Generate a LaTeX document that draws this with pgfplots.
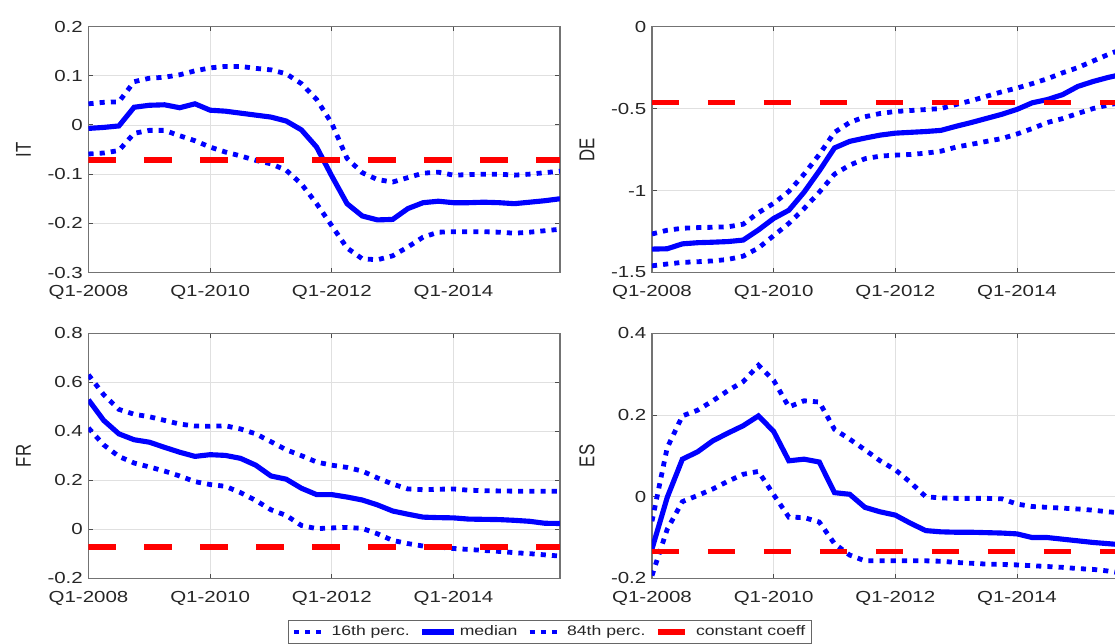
\documentclass[border=0pt]{standalone}
\usepackage{fontspec}
\setmainfont{Liberation Sans}[FakeStretch=1.28]
\newfontfamily\plainfont{Liberation Sans}
\usepackage{graphicx}
\usepackage{pgfplots}
\pgfplotsset{compat=1.18}
\usepackage{pgfplotstable}

\definecolor{mblue}{RGB}{0,0,255}
\definecolor{mred}{RGB}{255,0,0}
\definecolor{mtext}{RGB}{38,38,38}

\pgfplotstableread{
q lo med hi
0 -0.059 -0.007 0.043
1 -0.057 -0.005 0.046
2 -0.052 -0.002 0.047
3 -0.017 0.036 0.088
4 -0.011 0.040 0.095
5 -0.011 0.041 0.097
6 -0.022 0.035 0.102
7 -0.032 0.043 0.110
8 -0.045 0.030 0.116
9 -0.055 0.028 0.119
10 -0.063 0.024 0.119
11 -0.072 0.020 0.115
12 -0.079 0.016 0.112
13 -0.092 0.008 0.104
14 -0.120 -0.010 0.084
15 -0.160 -0.045 0.052
16 -0.205 -0.104 0.003
17 -0.250 -0.160 -0.068
18 -0.272 -0.185 -0.097
19 -0.274 -0.193 -0.111
20 -0.266 -0.192 -0.116
21 -0.248 -0.170 -0.107
22 -0.228 -0.158 -0.098
23 -0.218 -0.155 -0.096
24 -0.217 -0.158 -0.102
25 -0.217 -0.158 -0.101
26 -0.217 -0.157 -0.100
27 -0.218 -0.158 -0.100
28 -0.220 -0.160 -0.102
29 -0.218 -0.157 -0.100
30 -0.215 -0.154 -0.097
31 -0.212 -0.150 -0.094
}\ITdata

\pgfplotstableread{
q lo med hi
0 -1.459 -1.357 -1.265
1 -1.448 -1.355 -1.242
2 -1.438 -1.325 -1.230
3 -1.434 -1.318 -1.226
4 -1.429 -1.315 -1.224
5 -1.420 -1.311 -1.221
6 -1.400 -1.302 -1.205
7 -1.350 -1.240 -1.135
8 -1.275 -1.170 -1.078
9 -1.200 -1.120 -1.005
10 -1.110 -1.010 -0.900
11 -1.010 -0.880 -0.780
12 -0.900 -0.740 -0.645
13 -0.845 -0.700 -0.585
14 -0.806 -0.680 -0.550
15 -0.790 -0.662 -0.530
16 -0.784 -0.650 -0.518
17 -0.780 -0.645 -0.512
18 -0.772 -0.640 -0.506
19 -0.760 -0.633 -0.500
20 -0.735 -0.608 -0.475
21 -0.718 -0.585 -0.452
22 -0.700 -0.560 -0.425
23 -0.683 -0.535 -0.398
24 -0.655 -0.505 -0.375
25 -0.622 -0.465 -0.348
26 -0.585 -0.445 -0.318
27 -0.561 -0.415 -0.282
28 -0.530 -0.365 -0.250
29 -0.500 -0.335 -0.210
30 -0.478 -0.310 -0.170
31 -0.460 -0.290 -0.135
}\DEdata

\pgfplotstableread{
q lo med hi
0 0.414 0.529 0.631
1 0.345 0.445 0.550
2 0.298 0.390 0.490
3 0.271 0.366 0.470
4 0.255 0.356 0.460
5 0.238 0.335 0.445
6 0.218 0.315 0.430
7 0.195 0.298 0.422
8 0.183 0.305 0.421
9 0.176 0.302 0.423
10 0.150 0.290 0.410
11 0.118 0.262 0.390
12 0.080 0.218 0.358
13 0.057 0.205 0.325
14 0.016 0.168 0.301
15 0.003 0.142 0.275
16 0.006 0.142 0.262
17 0.008 0.132 0.253
18 0.004 0.120 0.238
19 -0.018 0.100 0.210
20 -0.045 0.075 0.185
21 -0.058 0.062 0.165
22 -0.068 0.050 0.162
23 -0.072 0.048 0.164
24 -0.078 0.047 0.165
25 -0.082 0.042 0.160
26 -0.086 0.041 0.158
27 -0.090 0.040 0.157
28 -0.095 0.037 0.156
29 -0.099 0.033 0.156
30 -0.104 0.025 0.156
31 -0.109 0.024 0.156
}\FRdata

\pgfplotstableread{
q lo med hi
0 -0.193 -0.128 -0.060
1 -0.080 -0.002 0.120
2 -0.012 0.092 0.198
3 0.003 0.110 0.212
4 0.019 0.137 0.235
5 0.038 0.156 0.260
6 0.055 0.174 0.282
7 0.062 0.198 0.322
8 0.005 0.160 0.285
9 -0.050 0.088 0.220
10 -0.051 0.092 0.235
11 -0.062 0.085 0.232
12 -0.115 0.010 0.165
13 -0.143 0.006 0.141
14 -0.157 -0.026 0.115
15 -0.157 -0.037 0.088
16 -0.157 -0.045 0.066
17 -0.157 -0.065 0.035
18 -0.157 -0.083 0.000
19 -0.158 -0.086 -0.003
20 -0.161 -0.087 -0.004
21 -0.163 -0.087 -0.004
22 -0.165 -0.088 -0.004
23 -0.166 -0.089 -0.005
24 -0.167 -0.091 -0.018
25 -0.169 -0.100 -0.024
26 -0.171 -0.100 -0.026
27 -0.173 -0.104 -0.028
28 -0.176 -0.108 -0.030
29 -0.178 -0.112 -0.033
30 -0.182 -0.115 -0.037
31 -0.188 -0.118 -0.040
}\ESdata

\pgfplotsset{
  panel/.style={
    scale only axis, width=294.7pt, height=153.75pt,
    anchor=north west,
    xmin=0, xmax=31, xtick={0,8,16,24},
    xticklabels={Q1-2008,Q1-2010,Q1-2012,Q1-2014},
    grid=major, major grid style={draw=black!12, line width=0.5pt},
    axis line style={draw=black!55, line width=0.7pt},
    tick style={draw=black!70, line width=0.6pt},
    tick align=inside, major tick length=3pt,
    ticklabel style={font=\fontsize{10}{12}\selectfont, text=mtext},
    /pgf/number format/assume math mode=true,
    ylabel style={at={(axis description cs:-0.138,0.5)}, anchor=center,
      font=\fontsize{10.5}{12}\selectfont, text=mtext},
    xticklabel style={yshift=-4.3pt},
  },
  lo/.style={mblue, line width=3pt, dash pattern=on 3.2pt off 3.8pt},
  med/.style={mblue, line width=3.2pt},
  cst/.style={mred, line width=3.6pt, dash pattern=on 17pt off 18pt},
}
\newcommand{\ylab}[1]{\scalebox{1}[1.28]{\plainfont #1}}

\begin{document}
\begin{tikzpicture}
% IT
\begin{axis}[panel, at={(55.3pt,-16.6pt)},
  ymin=-0.3, ymax=0.2, ytick={-0.3,-0.2,-0.1,0,0.1,0.2},
  ylabel={\ylab{IT}}]
\addplot[lo] table[x=q,y=lo]{\ITdata};
\addplot[med] table[x=q,y=med]{\ITdata};
\addplot[lo] table[x=q,y=hi]{\ITdata};
\addplot[cst] coordinates {(0,-0.071) (31,-0.071)};
\end{axis}
% DE
\begin{axis}[panel, at={(407.5pt,-16.6pt)},
  ymin=-1.5, ymax=0, ytick={-1.5,-1,-0.5,0},
  ylabel={\ylab{DE}}]
\addplot[lo] table[x=q,y=lo]{\DEdata};
\addplot[med] table[x=q,y=med]{\DEdata};
\addplot[lo] table[x=q,y=hi]{\DEdata};
\addplot[cst] coordinates {(0,-0.463) (31,-0.463)};
\end{axis}
% FR
\begin{axis}[panel, at={(55.3pt,-208.4pt)}, height=153.1pt,
  ymin=-0.2, ymax=0.8, ytick={-0.2,0,0.2,0.4,0.6,0.8},
  ylabel={\ylab{FR}},
  legend columns=4,
  legend style={at={(axis description cs:0.423,-0.169)}, anchor=north west,
    draw=black!60, line width=0.5pt, fill=white,
    font=\fontsize{8.6}{10}\selectfont, text=mtext,
    inner xsep=2pt, inner ysep=1.5pt,
    /tikz/every even column/.append style={column sep=4pt}},
  legend image code/.code={\draw[#1] (0pt,0pt) -- (20pt,0pt);},
  ]
\addplot[lo] table[x=q,y=lo]{\FRdata};
\addplot[med] table[x=q,y=med]{\FRdata};
\addplot[lo] table[x=q,y=hi]{\FRdata};
\addplot[cst] coordinates {(0,-0.072) (31,-0.072)};
\legend{16th perc.,median,84th perc.,constant coeff}
\end{axis}
% ES
\begin{axis}[panel, at={(407.5pt,-208.4pt)}, height=153.1pt,
  ymin=-0.2, ymax=0.4, ytick={-0.2,0,0.2,0.4},
  ylabel={\ylab{ES}}]
\addplot[lo] table[x=q,y=lo]{\ESdata};
\addplot[med] table[x=q,y=med]{\ESdata};
\addplot[lo] table[x=q,y=hi]{\ESdata};
\addplot[cst] coordinates {(0,-0.134) (31,-0.134)};
\end{axis}
\pgfresetboundingbox
\path[use as bounding box] (0,0) rectangle (696.9pt,-401.9pt);
\end{tikzpicture}
\end{document}
